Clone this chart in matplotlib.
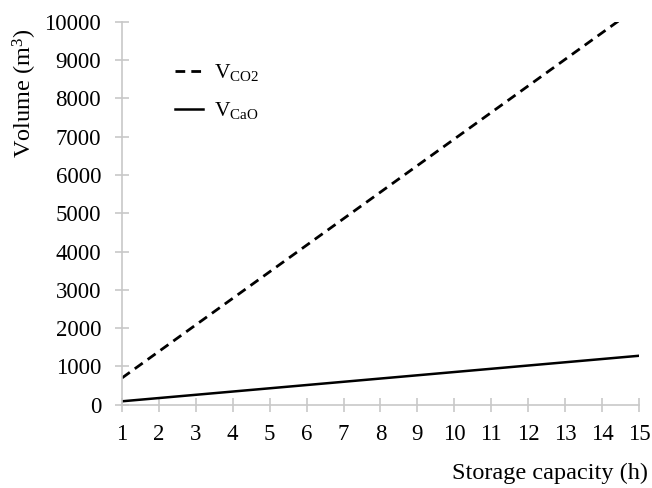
import matplotlib
matplotlib.use("Agg")
import matplotlib.pyplot as plt

plt.rcParams['font.family'] = ['Liberation Serif', 'DejaVu Serif']
plt.rcParams['mathtext.fontset'] = 'custom'
plt.rcParams['mathtext.rm'] = 'Liberation Serif'
plt.rcParams['mathtext.it'] = 'Liberation Serif:italic'

storage_h = [1, 2, 3, 4, 5, 6, 7, 8, 9, 10, 11, 12, 13, 14, 15]
v_co2 = [694, 1388, 2082, 2776, 3470, 4164, 4858, 5552, 6246, 6940,
         7634, 8328, 9022, 9716, 10410]
v_cao = [85, 170, 255, 340, 425, 510, 595, 680, 765, 850,
         935, 1020, 1105, 1190, 1275]
y_ticks = [0, 1000, 2000, 3000, 4000, 5000, 6000, 7000, 8000, 9000, 10000]

fig = plt.figure(figsize=(6.52, 4.88), dpi=100)
ax = fig.add_axes([0.187, 0.171, 0.793, 0.784])

grey = '#c8c8c8'
ax.plot(storage_h, v_co2, color='black', lw=2.0, dashes=(3.5, 2.2),
        label=r'V$_{\mathrm{CO2}}$')
ax.plot(storage_h, v_cao, color='black', lw=1.8, label=r'V$_{\mathrm{CaO}}$')

ax.set_xlim(1, 15)
ax.set_ylim(0, 10000)
ax.set_xticks(storage_h)
ax.set_yticks(y_ticks)

for s in ['top', 'right']:
    ax.spines[s].set_visible(False)
for s in ['left', 'bottom']:
    ax.spines[s].set_color(grey)
    ax.spines[s].set_linewidth(1.2)
ax.tick_params(axis='both', direction='inout', color=grey, width=1.2,
               length=10, labelsize=16.5, labelcolor='black')
ax.tick_params(axis='x', pad=9)
ax.tick_params(axis='y', pad=10)

fig.text(25 / 652, 1 - 93 / 488, 'Volume (m$^{3}$)', rotation=90,
         ha='center', va='center', fontsize=17.5)
fig.text(648 / 652, 1 - 473 / 488, 'Storage capacity (h)', ha='right',
         va='center', fontsize=17.5)

leg = ax.legend(loc='upper left', bbox_to_anchor=(0.1025, 0.895), frameon=False,
                fontsize=15.5, handlelength=1.3, labelspacing=0.8,
                handletextpad=0.5, borderpad=0, borderaxespad=0)

fig.savefig('out.png', dpi=100)
